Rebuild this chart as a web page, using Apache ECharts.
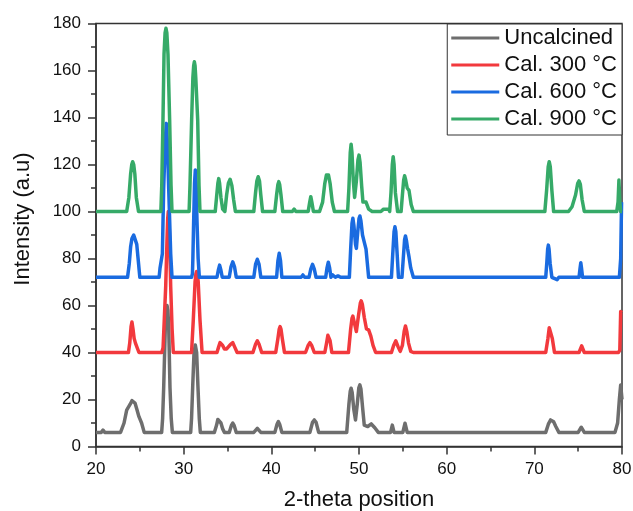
<!DOCTYPE html>
<html>
<head>
<meta charset="utf-8">
<script src="https://cdn.jsdelivr.net/npm/echarts@6/dist/echarts.min.js"></script>
<style>
html,body{margin:0;padding:0;background:#fff;overflow:hidden;}
#chart{width:633px;height:511px;}
</style>
</head>
<body>
<div id="chart"></div>
<script>
const seriesNames = ['Uncalcined', 'Cal. 300 °C', 'Cal. 600 °C', 'Cal. 900 °C'];
const xTicks = [20, 30, 40, 50, 60, 70, 80];
const yTicks = [0, 20, 40, 60, 80, 100, 120, 140, 160, 180];

const uncalcined = [
  [20,6],[20.6,6],[20.8,7],[21.0,6],
  [22.8,6],[23.2,10],[23.5,15.5],[23.9,18],[24.1,19.5],[24.25,19.8],[24.45,18.5],[24.65,16],[24.9,12.7],[25.2,10],[25.5,6],
  [27.49,6],[27.6,12],[27.72,25],[27.9,50],[28.0,58],[28.1,60],[28.2,58],[28.3,50],[28.44,25],[28.58,12],[28.71,6],
  [30.8,6],[30.9,12],[31.03,25.4],[31.18,40],[31.33,43.2],[31.48,40],[31.63,25.4],[31.78,12],[31.9,6],
  [33.5,6],[33.75,9],[33.9,11.5],[34.05,12],[34.25,10],[34.45,7.5],[34.65,6],
  [35.2,6],[35.45,9],[35.6,10],[35.75,9],[36.0,6],
  [38.0,6],[38.4,7.7],[38.8,6],
  [40.4,6],[40.65,9.5],[40.8,10.6],[40.95,9.5],[41.2,6],
  [44.4,6],[44.7,10.3],[44.9,11.3],[45.1,10.3],[45.4,6],
  [48.6,6],[48.85,18],[49.0,23.5],[49.1,24.8],[49.22,23],[49.4,16],[49.6,11.3],[49.8,18],[49.98,25],[50.1,26.2],[50.22,24.5],[50.4,17],[50.6,9.1],[51.0,8.5],[51.4,9.6],[51.8,8],[52.2,6],
  [53.6,6],[53.8,9.1],[54.0,6],
  [55.0,6],[55.25,9.9],[55.5,6],
  [71.3,6],[71.6,9.5],[71.85,11.3],[72.0,11.6],[72.2,10.5],[72.45,8.5],[72.8,6],
  [75.0,6],[75.35,8.2],[75.7,6],
  [79.2,6],[79.5,10],[79.7,20],[79.85,26.2],[80,20]
];

const cal300 = [
  [20,40],[23.7,40],[23.85,44],[24.0,51],[24.1,53],[24.22,50],[24.35,46],[24.5,44],[24.7,44],[24.9,40],
  [27.5,40],[27.65,42],[27.8,55],[27.95,68],[28.1,88],[28.18,97],[28.25,100],[28.32,97],[28.4,88],[28.52,68],[28.68,50],[28.82,40],
  [30.9,40],[31.1,54],[31.3,70],[31.4,73.5],[31.48,74.4],[31.56,73.5],[31.66,70],[31.86,54],[32.1,40],
  [33.8,40],[34.0,42.5],[34.15,44.2],[34.3,44.6],[34.45,43],[34.65,41.5],[34.9,41.5],[35.1,41],[35.35,43.5],[35.6,44.2],[35.8,42.5],[36.1,40],
  [37.9,40],[38.2,43.5],[38.4,45],[38.6,43.5],[38.9,40],
  [40.5,40],[40.75,46],[40.9,50],[41.0,51],[41.1,50],[41.25,46],[41.5,40],
  [43.9,40],[44.2,43],[44.4,44.2],[44.6,43],[44.9,40],
  [46.1,40],[46.3,44],[46.45,47.3],[46.55,47.9],[46.7,45],[46.9,40],
  [48.8,40],[49.05,50],[49.2,54.5],[49.3,55.5],[49.42,53.5],[49.7,48.9],[49.95,56],[50.15,61],[50.25,62],[50.38,60.5],[50.6,55],[50.85,50],[51.1,49.6],[51.35,47],[51.6,43],[51.9,40],
  [53.7,40],[53.95,43],[54.2,45],[54.45,42.5],[54.7,40.5],[54.95,43],[55.15,49],[55.3,51.3],[55.45,49],[55.65,44],[55.9,40.5],[56.2,40],
  [71.3,40],[71.55,46],[71.7,50.5],[71.8,51.3],[71.9,50.5],[72.05,46],[72.3,40],
  [75.1,40],[75.4,42.8],[75.7,40],
  [79.6,40],[79.75,41],[79.85,57.4],[80,57]
];

const cal600 = [
  [20,72],[23.6,72],[23.8,78],[23.95,85],[24.1,88.5],[24.3,90],[24.5,89.5],[24.65,86],[24.8,80],[25.0,72],
  [27.2,72],[27.3,75.8],[27.5,76.5],[27.57,82],[27.72,110],[27.9,130],[28.02,137.5],[28.14,130],[28.29,110],[28.52,82],[28.67,72],
  [30.9,72],[31.0,73.5],[31.05,80],[31.14,96],[31.24,112],[31.33,117.7],[31.42,112],[31.52,96],[31.65,80],[31.79,72],
  [33.8,72],[33.95,75],[34.1,77.2],[34.25,75],[34.4,72],
  [35.2,72],[35.4,76.5],[35.6,78.6],[35.8,76.5],[36.0,72],
  [38.0,72],[38.2,77.5],[38.4,79.7],[38.6,77.5],[38.8,72],
  [40.6,72],[40.75,79],[40.9,82.2],[41.05,79],[41.2,72],
  [41.9,72],[42.1,72.6],[42.3,72],[43.4,72],[43.6,73],[43.8,72],
  [44.3,72],[44.5,75.5],[44.7,77.5],[44.9,75.5],[45.1,72],
  [46.2,72],[46.35,76],[46.5,78.4],[46.65,76],[46.8,72],
  [47.0,73],[47.3,72],[47.6,72.6],[47.9,72],
  [48.9,72],[49.05,84],[49.2,95],[49.3,97.1],[49.42,94],[49.6,86],[49.7,84.3],[49.85,91],[50.0,97],[50.1,98.1],[50.22,96],[50.4,90],[50.6,87],[50.8,84],[50.95,78],[51.1,72],
  [53.7,72],[53.85,82],[54.0,91.5],[54.1,93.5],[54.2,91.5],[54.35,82],[54.5,72],
  [54.9,72],[55.05,80],[55.2,88],[55.3,89.6],[55.42,87.5],[55.55,84],[55.7,80.8],[55.9,76],[56.2,72],
  [71.3,72],[71.42,78],[71.52,84],[71.6,85.7],[71.68,84],[71.8,78],[72.0,72],
  [72.6,71],[72.8,72],
  [75.1,72],[75.22,76],[75.3,78.2],[75.38,76],[75.5,72],
  [79.7,72],[79.85,80],[79.95,104],[80,104]
];

const cal900 = [
  [20,100],[23.5,100],[23.75,106],[23.95,116],[24.08,120],[24.18,121.2],[24.3,120],[24.43,116],[24.6,106],[24.85,100],
  [27.4,100],[27.5,111],[27.64,139],[27.76,167],[27.88,176],[27.98,178],[28.08,176],[28.21,167],[28.4,139],[28.56,111],[28.67,100],
  [30.62,100],[30.72,111],[30.91,139],[31.05,157],[31.14,162],[31.22,163.7],[31.3,162],[31.38,157],[31.6,139],[31.75,111],[31.86,100],
  [33.6,100],[33.75,106],[33.9,112],[34.0,114],[34.1,112],[34.25,106],[34.45,101],[34.7,100],[34.9,107],[35.1,112],[35.3,113.7],[35.5,111],[35.7,105],[35.9,100],
  [38.0,100],[38.2,108],[38.35,113],[38.5,114.8],[38.65,113],[38.8,107],[39.0,100],
  [40.4,100],[40.6,107],[40.75,111.5],[40.85,112.7],[40.95,111.5],[41.1,107],[41.3,100],
  [42.4,100],[42.6,101],[42.8,100],
  [44.2,100],[44.38,104],[44.5,106.3],[44.62,104],[44.8,100],
  [45.5,100],[45.85,104],[46.1,112],[46.28,115.5],[46.4,116.2],[46.52,115.5],[46.7,112],[46.95,104],[47.2,100],
  [48.7,100],[48.85,110],[49.0,125],[49.1,128.6],[49.2,125],[49.35,113],[49.5,106],[49.7,113],[49.88,122],[50.0,124],[50.12,121],[50.3,111],[50.45,104],[50.8,104],[51.1,101],[51.5,100],
  [52.5,100],[52.8,101],[53.4,101],
  [53.5,100],[53.65,108],[53.8,120],[53.9,123.3],[54.0,120],[54.15,108],[54.4,100],
  [54.8,100],[54.95,107],[55.1,113.5],[55.2,115.2],[55.32,113.5],[55.5,110],[55.7,109],[55.95,103],[56.2,100],
  [71.2,100],[71.4,109],[71.58,119],[71.7,121.2],[71.82,119],[72.0,109],[72.2,100],
  [73.9,100],[74.3,102],[74.7,107],[74.95,112],[75.1,113],[75.25,111.5],[75.45,105],[75.7,100],
  [79.4,100],[79.55,104],[79.65,113.4],[79.75,104],[79.85,100],[80,100]
];

const seriesData = [uncalcined, cal300, cal600, cal900];
const colors = ['#6E6E6E', '#F2393D', '#1A6BE0', '#36AA68'];
const FONT = 'Liberation Sans, Arial, sans-serif';

const chart = echarts.init(document.getElementById('chart'), null, {renderer: 'canvas', width: 633, height: 511});
chart.setOption({
  animation: false,
  backgroundColor: '#fff',
  grid: {
    left: 96, top: 23.5, width: 526, height: 423,
    containLabel: false,
    outerBoundsMode: 'none',
    show: true, borderColor: '#333', borderWidth: 1.5, backgroundColor: 'transparent'
  },
  legend: {
    data: seriesNames,
    orient: 'vertical',
    right: 11, top: 24,
    icon: 'rect',
    itemWidth: 48, itemHeight: 3,
    itemGap: 5,
    itemTextGap: 7,
    padding: [3, 5, 5, 4],
    borderColor: '#333', borderWidth: 1,
    backgroundColor: '#fff',
    textStyle: {fontSize: 22, fontFamily: FONT, color: '#111'}
  },
  xAxis: {
    type: 'value', min: xTicks[0], max: xTicks[xTicks.length - 1], interval: 10,
    name: '2-theta position', nameLocation: 'middle', nameGap: 42,
    nameTextStyle: {fontSize: 22, fontFamily: FONT, color: '#111'},
    axisLine: {show: true, lineStyle: {color: '#333', width: 1.5}},
    axisTick: {show: true, length: 8, lineStyle: {color: '#333', width: 1.5}},
    minorTick: {show: true, splitNumber: 2, length: 5, lineStyle: {color: '#333', width: 1.5}},
    axisLabel: {fontSize: 17, fontFamily: FONT, color: '#111', margin: 14},
    splitLine: {show: false}
  },
  yAxis: {
    type: 'value', min: yTicks[0], max: yTicks[yTicks.length - 1], interval: 20,
    name: 'Intensity (a.u)', nameLocation: 'middle', nameGap: 62,
    nameTextStyle: {fontSize: 22, fontFamily: FONT, color: '#111', padding: [0, 0, 0, 32]},
    axisLine: {show: true, lineStyle: {color: '#333', width: 1.5}},
    axisTick: {show: true, length: 8, lineStyle: {color: '#333', width: 1.5}},
    minorTick: {show: true, splitNumber: 2, length: 5, lineStyle: {color: '#333', width: 1.5}},
    axisLabel: {fontSize: 17, fontFamily: FONT, color: '#111', margin: 15},
    splitLine: {show: false}
  },
  series: seriesNames.map((n, i) => ({
    name: n,
    type: 'line',
    data: seriesData[i],
    symbol: 'none',
    showSymbol: false,
    color: colors[i],
    lineStyle: {width: 3.5, color: colors[i], join: 'round'},
    clip: true
  }))
});
</script>
</body>
</html>
